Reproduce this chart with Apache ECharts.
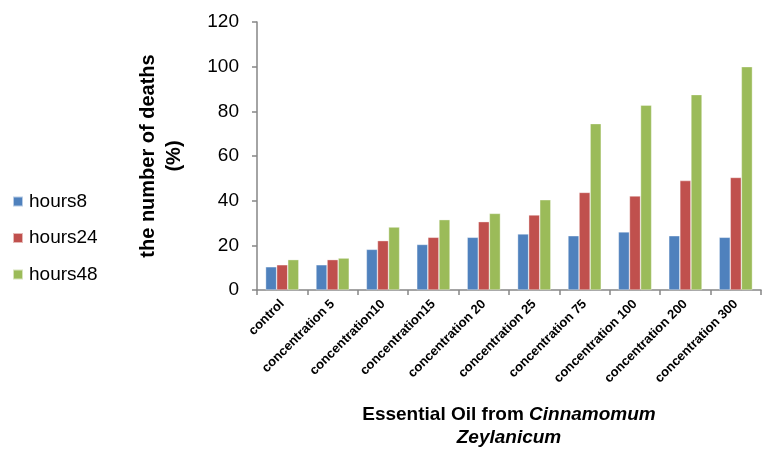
<!DOCTYPE html>
<html>
<head>
<meta charset="utf-8">
<script src="https://cdn.jsdelivr.net/npm/echarts@6/dist/echarts.min.js"></script>
<style>
  html, body { margin: 0; padding: 0; background: #fff; }
  #chart { width: 771px; height: 449px; }
</style>
</head>
<body>
<div id="chart"></div>
<script>
// Concentration groups along the x axis
const categories = ['control', 'concentration 5', 'concentration10', 'concentration15',
  'concentration 20', 'concentration 25', 'concentration 75', 'concentration 100',
  'concentration 200', 'concentration 300'];

// Mortality (%) after each exposure time
const hours8  = [10.4, 11.3, 18.2, 20.4, 23.6, 25.1, 24.3, 26.0, 24.3, 23.6];
const hours24 = [11.3, 13.6, 22.1, 23.6, 30.6, 33.6, 43.7, 42.1, 49.0, 50.4];
const hours48 = [13.6, 14.3, 28.2, 31.5, 34.3, 40.4, 74.5, 82.8, 87.5, 100];

const seriesNames = ['hours8', 'hours24', 'hours48'];
const seriesColors = ['#4F81BD', '#C0504D', '#9BBB59'];
const seriesData = [hours8, hours24, hours48];

const yTicks = { min: 0, max: 120, interval: 20 };

const FONT = '"Liberation Sans", Arial, sans-serif';
const chart = echarts.init(document.getElementById('chart'), null, { renderer: 'canvas' });

chart.setOption({
  backgroundColor: '#ffffff',
  textStyle: { fontFamily: FONT },
  animation: false,
  grid: { left: 257, right: 10, top: 22, bottom: 159, containLabel: false, outerBoundsMode: 'none' },
  legend: {
    orient: 'vertical',
    left: 12,
    top: 192,
    padding: 0,
    itemWidth: 10,
    itemHeight: 10,
    itemGap: 17.5,
    icon: 'rect',
    data: seriesNames,
    textStyle: { fontFamily: FONT, fontSize: 19, color: '#000', padding: [0, 0, 0, 1] }
  },
  xAxis: {
    type: 'category',
    data: categories,
    axisLine: { lineStyle: { color: '#868686', width: 1.5 } },
    axisTick: { show: true, alignWithLabel: false, length: 5, lineStyle: { color: '#868686', width: 1.5 } },
    axisLabel: {
      interval: 0,
      rotate: 45,
      fontFamily: FONT,
      fontSize: 13,
      fontWeight: 'bold',
      color: '#000',
      margin: 12
    },
    name: '{n|Essential Oil from }{i|Cinnamomum}\n{i|Zeylanicum}',
    nameLocation: 'middle',
    nameGap: 113,
    nameTextStyle: {
      align: 'center',
      lineHeight: 23,
      rich: {
        n: { fontFamily: FONT, fontSize: 19, fontWeight: 'bold', color: '#000', lineHeight: 23 },
        i: { fontFamily: FONT, fontSize: 19, fontWeight: 'bold', fontStyle: 'italic', color: '#000', lineHeight: 23 }
      }
    }
  },
  yAxis: {
    type: 'value',
    min: yTicks.min,
    max: yTicks.max,
    interval: yTicks.interval,
    splitLine: { show: false },
    axisLine: { show: true, lineStyle: { color: '#868686', width: 1.5 } },
    axisTick: { show: true, length: 5, lineStyle: { color: '#868686', width: 1.5 } },
    axisLabel: { fontFamily: FONT, fontSize: 19, color: '#000', margin: 18 },
    name: 'the number of deaths\n(%)',
    nameLocation: 'middle',
    nameGap: 70,
    nameTextStyle: {
      fontFamily: FONT,
      fontSize: 20,
      fontWeight: 'bold',
      color: '#000',
      lineHeight: 26,
      align: 'center'
    }
  },
  series: seriesData.map((d, i) => ({
    name: seriesNames[i],
    type: 'bar',
    data: d,
    barGap: '0%',
    barCategoryGap: '34%',
    itemStyle: { color: seriesColors[i], borderColor: 'rgba(255,255,255,0.6)', borderWidth: 0.6 }
  }))
});
</script>
</body>
</html>
